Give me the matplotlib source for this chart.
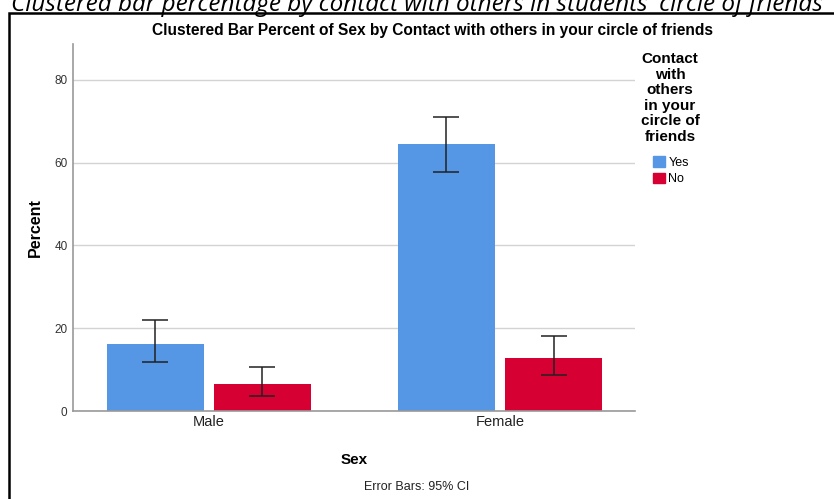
import matplotlib.pyplot as plt
import matplotlib.patches as mpatches
import numpy as np

plt.rcParams['font.family'] = ['Liberation Sans', 'DejaVu Sans']

sexes = ["Male", "Female"]
contact = ["Yes", "No"]
pct_yes = [16.2, 64.5]
pct_no = [6.5, 12.8]
ci_yes_low = [11.8, 57.7]
ci_yes_high = [22.0, 71.0]
ci_no_low = [3.6, 8.7]
ci_no_high = [10.6, 18.1]

col_yes = "#5597e4"
col_no = "#d60032"

fig = plt.figure(figsize=(8.34, 4.99), dpi=100)

# caption above the framed chart, its top runs off the edge
fig.text(0.5, 1 - 11 / 499, "Clustered bar percentage by contact with others in students' circle of friends",
         ha="center", va="baseline", fontsize=17.5, style="italic", family=["Open Sans", "DejaVu Sans"])

# frame round the chart
frame = mpatches.Rectangle((9 / 834, -0.01), 1.0, 1 - 13 / 499 + 0.01, transform=fig.transFigure,
                           fill=False, edgecolor="black", linewidth=1.8)
fig.patches.append(frame)

ax = fig.add_axes([73 / 834, 1 - 411 / 499, (635 - 73) / 834, (411 - 44) / 499])

x = np.arange(len(sexes))
w = 0.333
off = 0.184

def draw_series(xs, vals, lo, hi, color):
    ax.bar(xs, vals, width=w, color=color, edgecolor="none", zorder=2)
    err = [np.array(vals) - np.array(lo), np.array(hi) - np.array(vals)]
    ax.errorbar(xs, vals, yerr=err, fmt="none", ecolor="#222222", elinewidth=1.1,
                capsize=9.5, capthick=1.1, zorder=3)

draw_series(x - off, pct_yes, ci_yes_low, ci_yes_high, col_yes)
draw_series(x + off, pct_no, ci_no_low, ci_no_high, col_no)

ax.set_xlim(-0.467, 1.464)
ax.set_ylim(0, 88.7)
ax.set_yticks([0, 20, 40, 60, 80])
ax.yaxis.grid(True, color="#d3d3d3", linewidth=1.0, zorder=0)
ax.set_axisbelow(True)
ax.set_xticks(x)
ax.set_xticklabels(sexes, fontsize=10.5, color="#222222")
ax.tick_params(axis="y", length=0, labelsize=8.5, labelcolor="#333333", pad=4)
ax.tick_params(axis="x", length=0, pad=3)
for s in ["top", "right"]:
    ax.spines[s].set_visible(False)
for s in ["left", "bottom"]:
    ax.spines[s].set_color("#999999")
    ax.spines[s].set_linewidth(1.2)

ax.set_ylabel("Percent", fontsize=11.5, fontweight="bold", labelpad=8)
ax.set_xlabel("Sex", fontsize=11, fontweight="bold", labelpad=17)

fig.text(433 / 834, 1 - 31 / 499, "Clustered Bar Percent of Sex by Contact with others in your circle of friends",
         ha="center", va="center", fontsize=11.2, fontweight="bold")
fig.text(0.5, 1 - 487 / 499, "Error Bars: 95% CI", ha="center", va="center", fontsize=9, color="#222222")

fig.text(670 / 834, 1 - 98 / 499, "Contact\nwith\nothers\nin your\ncircle of\nfriends",
         ha="center", va="center", fontsize=11, fontweight="bold", linespacing=1.14)

handles = [mpatches.Patch(color=col_yes, label=contact[0]),
           mpatches.Patch(color=col_no, label=contact[1])]
fig.legend(handles=handles, loc="upper left", bbox_to_anchor=(647 / 834, 1 - 150 / 499),
           frameon=False, fontsize=9, handlelength=0.9, handleheight=0.9, handletextpad=0.3,
           labelspacing=0.3, borderpad=0)

fig.savefig("out.png", dpi=100)
